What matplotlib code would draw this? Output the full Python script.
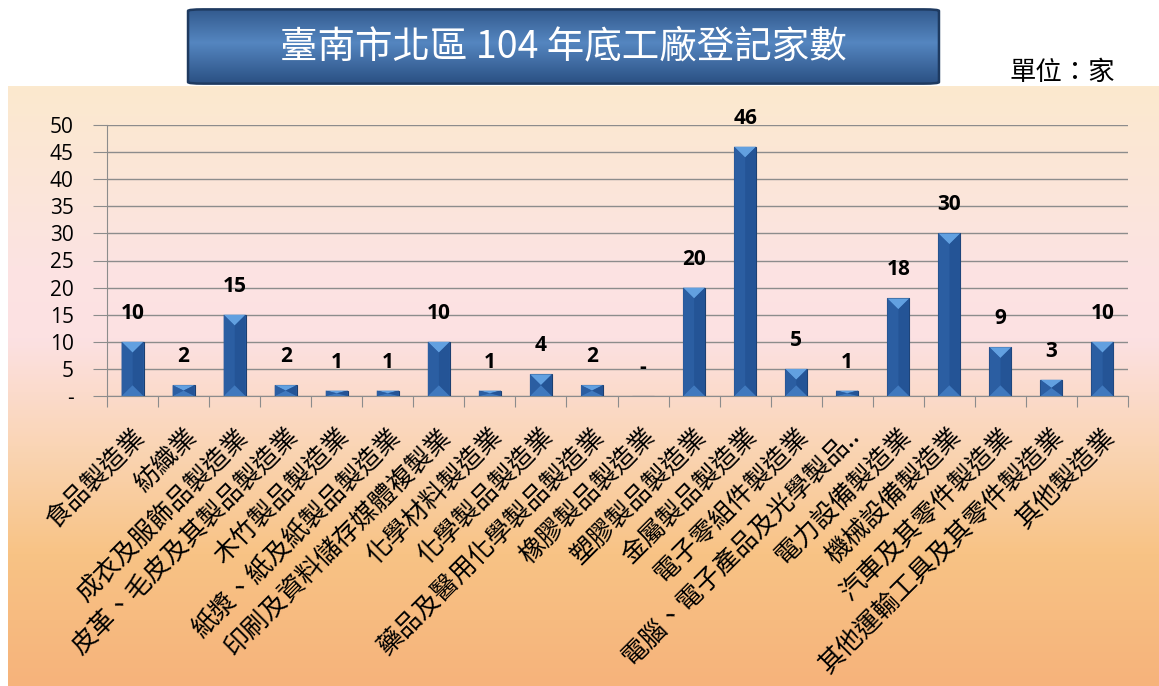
import matplotlib.pyplot as plt
import numpy as np
from matplotlib.patches import FancyBboxPatch, Polygon

plt.rcParams['font.family'] = ['Noto Sans CJK TC', 'DejaVu Sans']

# data
categories = [
    "食品製造業", "紡織業", "成衣及服飾品製造業", "皮革、毛皮及其製品製造業",
    "木竹製品製造業", "紙漿、紙及紙製品製造業", "印刷及資料儲存媒體複製業",
    "化學材料製造業", "化學製品製造業", "藥品及醫用化學製品製造業",
    "橡膠製品製造業", "塑膠製品製造業", "金屬製品製造業", "電子零組件製造業",
    "電腦、電子產品及光學製品..", "電力設備製造業", "機械設備製造業",
    "汽車及其零件製造業", "其他運輸工具及其零件製造業", "其他製造業",
]
counts = [10, 2, 15, 2, 1, 1, 10, 1, 4, 2, 0, 20, 46, 5, 1, 18, 30, 9, 3, 10]
y_ticks = [0, 5, 10, 15, 20, 25, 30, 35, 40, 45, 50]
y_tick_labels = ["-", "5", "10", "15", "20", "25", "30", "35", "40", "45", "50"]
title = "臺南市北區 104 年底工廠登記家數"
unit_text = "單位：家"

W, H = 1159, 686
fig = plt.figure(figsize=(W / 100, H / 100), dpi=100, facecolor="white")

# background panel with vertical gradient
bg_ax = fig.add_axes([8 / W, 0, 1 - 8 / W, 600 / H], zorder=0)
stops = [(0.0, "#FBE9CE"), (0.30, "#FCE3E2"), (0.42, "#FCE1E3"),
         (0.60, "#FAD5B5"), (0.78, "#F8C385"), (1.0, "#F6B37B")]
pos = np.linspace(0, 1, 300)
rgb = []
for ch in range(3):
    xs = [s[0] for s in stops]
    vs = [int(s[1][1 + 2 * ch:3 + 2 * ch], 16) / 255 for s in stops]
    rgb.append(np.interp(pos, xs, vs))
grad = np.stack(rgb, axis=1)[:, None, :]
bg_ax.imshow(grad, aspect="auto", extent=[0, 1, 0, 1])
bg_ax.axis("off")

# title box
t_ax = fig.add_axes([185 / W, 1 - 86 / H, 757 / W, 79 / H], zorder=1)
t_ax.set_xlim(0, 1)
t_ax.set_ylim(0, 1)
t_pos = np.linspace(0, 1, 200)
t_col = np.interp(np.abs(t_pos - 0.45) * 2, [0, 1], [0, 1])
top_c = np.array([0x55, 0x86, 0xC0]) / 255
edge_c = np.array([0x2C, 0x52, 0x85]) / 255
t_grad = (top_c[None, :] * (1 - t_col[:, None]) + edge_c[None, :] * t_col[:, None])[:, None, :]
box = FancyBboxPatch((0.004, 0.03), 0.992, 0.94, boxstyle="round,pad=0,rounding_size=0.02",
                     transform=t_ax.transAxes, facecolor="none", edgecolor="#1E3A60", lw=1.8)
im = t_ax.imshow(t_grad, aspect="auto", extent=[0, 1, 0, 1])
im.set_clip_path(box)
t_ax.add_patch(box)
t_ax.text(0.5, 0.5, title, color="white", fontsize=27, ha="center", va="center",
          transform=t_ax.transAxes)
t_ax.axis("off")

fig.text(1115 / W, 1 - 72 / H, unit_text, fontsize=19, ha="right", va="center")

# main chart
ax = fig.add_axes([107 / W, 290 / H, 1021 / W, 271 / H], zorder=2)
ax.patch.set_alpha(0)
x = np.arange(len(categories))
bw = 0.43
bars = ax.bar(x, counts, width=bw, color="#2E66AE", edgecolor="#1C3F70", linewidth=0.8, zorder=3)

# bevel facets
for xi, h in zip(x, counts):
    if h <= 0:
        continue
    d = min(2.0, h / 2)
    l, r = xi - bw / 2, xi + bw / 2
    ax.add_patch(Polygon([(l, h), (r, h), (xi, h - d)], closed=True,
                         facecolor="#62A0E0", edgecolor="none", zorder=4))
    ax.add_patch(Polygon([(l, 0), (r, 0), (xi, d)], closed=True,
                         facecolor="#4079BE", edgecolor="none", zorder=4))
    ax.add_patch(Polygon([(l, 0), (l, h), (xi, h - d), (xi, d)], closed=True,
                         facecolor="#2B5EA2", edgecolor="none", zorder=4))
    ax.add_patch(Polygon([(r, 0), (r, h), (xi, h - d), (xi, d)], closed=True,
                         facecolor="#245496", edgecolor="none", zorder=4))

for xi, h in zip(x, counts):
    lbl = str(h) if h > 0 else "-"
    ax.annotate(lbl, (xi, h), xytext=(0, 13), textcoords="offset points",
                ha="center", va="bottom", fontsize=15, fontweight="bold",
                family=["Open Sans", "DejaVu Sans"])

ax.set_xlim(-0.5, len(categories) - 0.5)
ax.set_ylim(0, 50)
ax.set_yticks(y_ticks)
ax.set_yticklabels(y_tick_labels, fontsize=15, family=["Open Sans", "DejaVu Sans"])
ax.yaxis.grid(True, color="#8C8C8C", linewidth=1, zorder=1)
ax.set_axisbelow(True)
ax.tick_params(axis="y", length=10, color="#8C8C8C", pad=14)

ax.set_xticks(np.arange(len(categories) + 1) - 0.5)
ax.set_xticklabels([])
ax.tick_params(axis="x", which="major", length=8, color="#8C8C8C")
ax.set_xticks(x, minor=True)
ax.set_xticklabels(categories, minor=True, rotation=45, ha="right", va="top",
                   rotation_mode="anchor", fontsize=18.5)
ax.tick_params(axis="x", which="minor", length=0, pad=20)

for side in ["top", "right"]:
    ax.spines[side].set_visible(False)
ax.spines["left"].set_color("#8C8C8C")
ax.spines["bottom"].set_color("#8C8C8C")

fig.savefig("out.png", dpi=100)
